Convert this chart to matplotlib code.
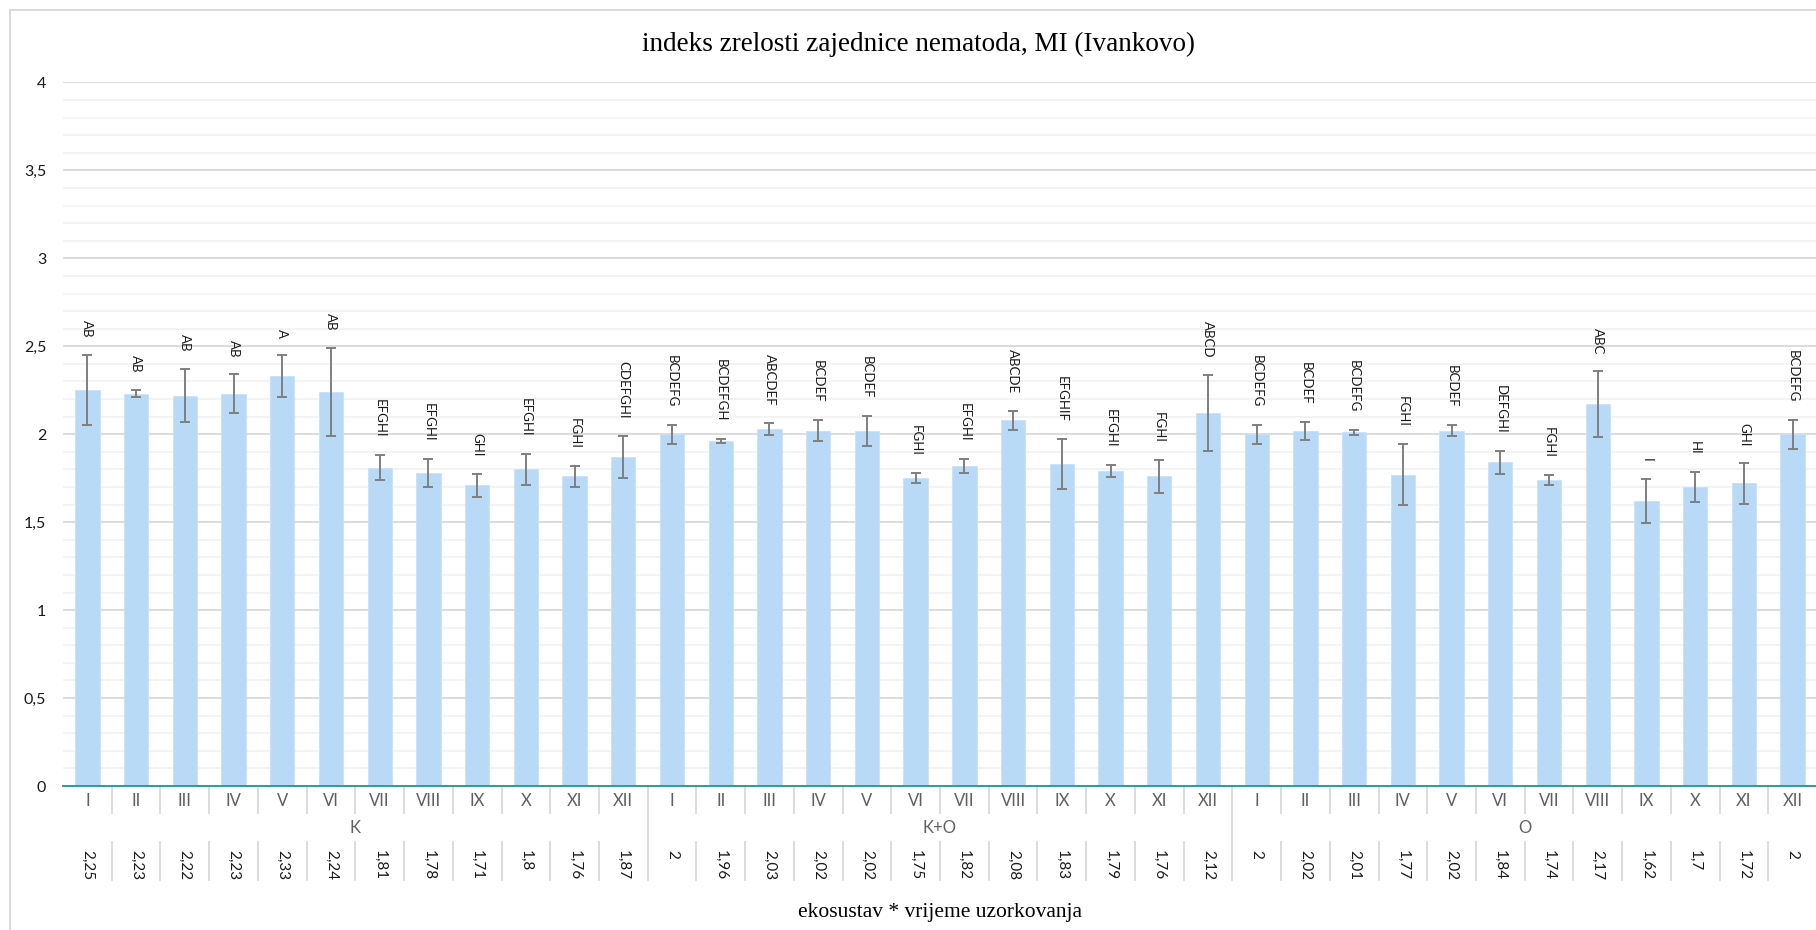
import matplotlib
matplotlib.use("Agg")
import matplotlib.pyplot as plt
import matplotlib.transforms as mtransforms
from matplotlib.patches import Rectangle
from matplotlib.ticker import MultipleLocator, FuncFormatter
import numpy as np

# ---------------- data ----------------
groups = ["K", "K+O", "O"]
months = ["I", "II", "III", "IV", "V", "VI", "VII", "VIII", "IX", "X", "XI", "XII"]

mean_K = [2.25, 2.23, 2.22, 2.23, 2.33, 2.24, 1.81, 1.78, 1.71, 1.80, 1.76, 1.87]
mean_KO = [2.00, 1.96, 2.03, 2.02, 2.02, 1.75, 1.82, 2.08, 1.83, 1.79, 1.76, 2.12]
mean_O = [2.00, 2.02, 2.01, 1.77, 2.02, 1.84, 1.74, 2.17, 1.62, 1.70, 1.72, 2.00]

err_K = [0.20, 0.02, 0.15, 0.11, 0.12, 0.25, 0.07, 0.08, 0.066, 0.088, 0.06, 0.12]
err_KO = [0.053, 0.012, 0.035, 0.06, 0.085, 0.03, 0.038, 0.054, 0.143, 0.034, 0.095, 0.217]
err_O = [0.053, 0.05, 0.016, 0.174, 0.03, 0.066, 0.027, 0.188, 0.123, 0.086, 0.115, 0.083]

letters_K = ["AB", "AB", "AB", "AB", "A", "AB", "EFGHI", "EFGHI", "GHI", "EFGHI", "FGHI", "CDEFGHI"]
letters_KO = ["BCDEFG", "BCDEFGH", "ABCDEF", "BCDEF", "BCDEF", "FGHI", "EFGHI", "ABCDE",
              "EFGHIF", "EFGHI", "FGHI", "ABCD"]
letters_O = ["BCDEFG", "BCDEF", "BCDEFG", "FGHI", "BCDEF", "DEFGHI", "FGHI", "ABC",
             "I", "HI", "GHI", "BCDEFG"]

title = "indeks zrelosti zajednice nematoda, MI (Ivankovo)"
xlabel = "ekosustav * vrijeme uzorkovanja"

# ---------------- assemble ----------------
means = mean_K + mean_KO + mean_O
errs = err_K + err_KO + err_O
letters = letters_K + letters_KO + letters_O
cat_labels = months * len(groups)
n = len(means)
x = np.arange(n)

W, H = 1816, 930
fig = plt.figure(figsize=(W / 100, H / 100), dpi=100)
fig.patch.set_facecolor("white")

def fy(px):
    return 1 - px / H

def fx(px):
    return px / W

ax_left, ax_right = 63, 1817
ax_top, ax_bot = 82.5, 786
ax = fig.add_axes([fx(ax_left), fy(ax_bot), (ax_right - ax_left) / W, (ax_bot - ax_top) / H])

# chart border
fig.patches.append(Rectangle((fx(10), fy(H + 20)), fx(W + 40), fy(10) - fy(H + 20),
                             transform=fig.transFigure, fill=False,
                             edgecolor="#D9D9D9", linewidth=1.4, zorder=0))

sans = ["Lato", "DejaVu Sans"]
serif = ["Liberation Serif", "DejaVu Serif"]

ax.bar(x, means, width=0.5, color="#B8DAF6", edgecolor="#C9E2F8", linewidth=0.6, zorder=2)
ax.errorbar(x, means, yerr=errs, fmt="none", ecolor="#7F7F7F", elinewidth=1.4,
            capsize=3.5, capthick=1.4, zorder=3)

for xi, m, e, lab in zip(x, means, errs, letters):
    ax.annotate(lab, (xi, m + e), xytext=(0, 12.5), textcoords="offset points",
                rotation=-90, ha="center", va="bottom", fontsize=9.5,
                family=sans, color="#1a1a1a", zorder=4)

ax.set_xlim(-0.5, n - 0.5)
ax.set_ylim(0, 4)
ax.yaxis.set_major_locator(MultipleLocator(0.5))
ax.yaxis.set_minor_locator(MultipleLocator(0.1))
ax.yaxis.set_major_formatter(FuncFormatter(lambda v, p: f"{v:g}".replace(".", ",")))
ax.grid(axis="y", which="major", color="#D9D9D9", linewidth=1.3, zorder=0)
ax.grid(axis="y", which="minor", color="#F0F0F0", linewidth=1.1, zorder=0)
ax.set_axisbelow(True)
for s in ["top", "right", "left"]:
    ax.spines[s].set_visible(False)
ax.spines["bottom"].set_color("#2E9A9E")
ax.spines["bottom"].set_linewidth(1.4)
ax.spines["bottom"].set_zorder(5)
ax.tick_params(axis="y", which="both", length=0, pad=12, labelsize=11.5, labelcolor="#1a1a1a")
for t in ax.get_yticklabels():
    t.set_family(sans)

ax.set_xticks(x)
ax.set_xticklabels(cat_labels, fontsize=12, color="#606060", family=sans)
ax.tick_params(axis="x", which="both", length=0, pad=5)

# multi-level category axis
bt = mtransforms.blended_transform_factory(ax.transData, fig.transFigure)
sep_color = "#D9D9D9"
for b in np.arange(0.5, n - 1, 1.0):
    if int(b + 0.5) % 12 == 0:
        ax.plot([b, b], [fy(786), fy(880)], transform=bt, color=sep_color, lw=1.3, clip_on=False)
    else:
        ax.plot([b, b], [fy(786), fy(813)], transform=bt, color=sep_color, lw=1.3, clip_on=False)
        ax.plot([b, b], [fy(842), fy(880)], transform=bt, color=sep_color, lw=1.3, clip_on=False)
ax.plot([n - 0.5, n - 0.5], [fy(786), fy(880)], transform=bt, color=sep_color, lw=1.3, clip_on=False)

for gi, g in enumerate(groups):
    ax.text(gi * 12 + 5.5, fy(828), g, transform=bt, ha="center", va="center",
            fontsize=12, color="#606060", family=sans)

for xi, m in zip(x, means):
    ax.text(xi, fy(850), f"{m:g}".replace(".", ","), transform=bt, rotation=-90,
            ha="center", va="top", fontsize=11, color="#1a1a1a", family=sans)

fig.text(fx(919), fy(44), title, ha="center", va="center", fontsize=19.5,
         family=serif, color="#000000")
fig.text(fx(940), fy(912), xlabel, ha="center", va="center", fontsize=15.5,
         family=serif, color="#000000")

fig.savefig("out.png", dpi=100, facecolor="white")
